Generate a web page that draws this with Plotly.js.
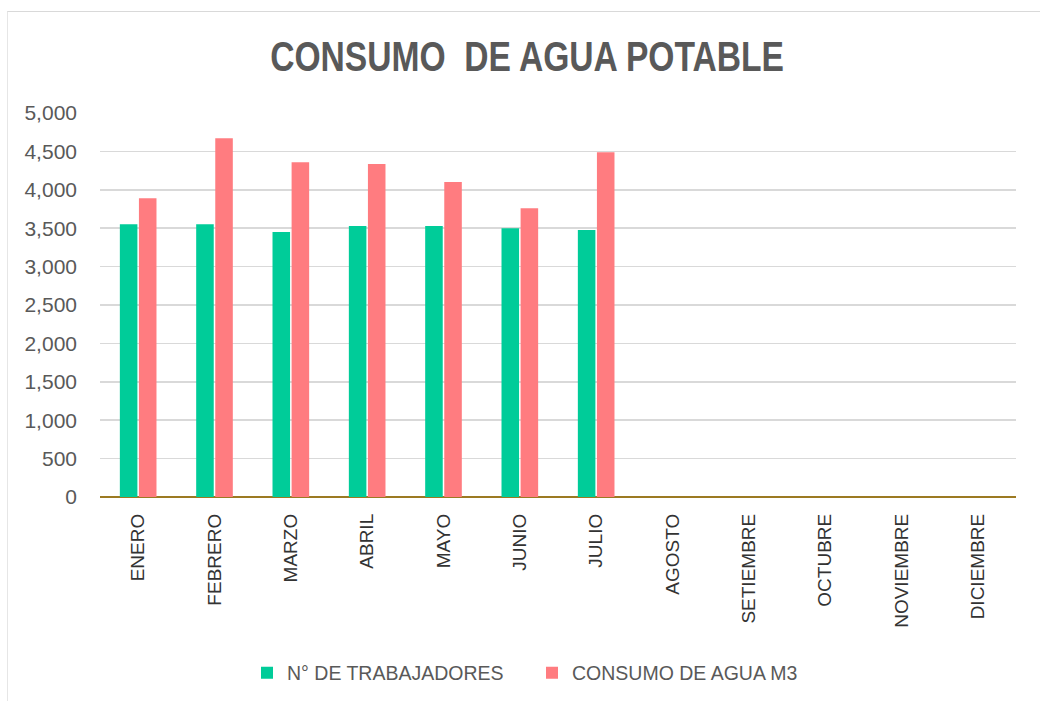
<!DOCTYPE html>
<html>
<head>
<meta charset="utf-8">
<script src="https://cdn.plot.ly/plotly-3.0.1.min.js"></script>
<style>
  html, body { margin: 0; padding: 0; background: #fff; }
  #frame { position: absolute; left: 7px; top: 11px; width: 1040px; height: 700px; border-left: 1px solid #e6e6e6; border-top: 1px solid #d9d9d9; box-sizing: border-box; pointer-events: none; }
  #chart { position: absolute; left: 0; top: 0; width: 1040px; height: 701px; }
</style>
</head>
<body>
<div id="chart"></div>
<div id="frame"></div>
<script>
const months = ["ENERO","FEBRERO","MARZO","ABRIL","MAYO","JUNIO","JULIO","AGOSTO","SETIEMBRE","OCTUBRE","NOVIEMBRE","DICIEMBRE"];
const trabajadores = [3550, 3550, 3450, 3530, 3530, 3500, 3475, null, null, null, null, null];
const consumoAgua = [3890, 4670, 4360, 4335, 4100, 3760, 4490, null, null, null, null, null];
const yTicks = [0, 500, 1000, 1500, 2000, 2500, 3000, 3500, 4000, 4500, 5000];

const data = [
  { type: 'bar', name: 'N° DE TRABAJADORES', x: months, y: trabajadores, marker: { color: '#00CC99' } },
  { type: 'bar', name: 'CONSUMO DE AGUA M3', x: months, y: consumoAgua, marker: { color: '#FF7C80' } }
];

const layout = {
  width: 1040, height: 701,
  margin: { l: 100, r: 24, t: 113, b: 204 },
  paper_bgcolor: '#ffffff', plot_bgcolor: '#ffffff',
  title: {
    text: 'CONSUMO  DE AGUA POTABLE',
    font: { family: '"Liberation Sans", Arial, sans-serif', size: 42, color: '#595959', weight: 700 },
    xref: 'container', x: 527 / 1040, xanchor: 'center', yref: 'container', y: 1 - 56 / 701, yanchor: 'middle'
  },
  barmode: 'group', bargap: 0.5, bargroupgap: 0.08,
  xaxis: {
    type: 'category', tickangle: -90, showgrid: false, zeroline: false,
    showline: false, ticks: '', ticklen: 0, ticklabelstandoff: 12,
    tickfont: { family: '"Liberation Sans", Arial, sans-serif', size: 19, color: '#333333' }
  },
  yaxis: {
    range: [0, 5000], tickvals: yTicks, tickformat: ',d',
    showgrid: true, gridcolor: '#d9d9d9', gridwidth: 1.5,
    zeroline: true, zerolinecolor: '#9C7A22', zerolinewidth: 2,
    showline: false, ticks: '',
    tickfont: { family: '"Liberation Sans", Arial, sans-serif', size: 21, color: '#595959' },
    ticklabelstandoff: 22
  },
  legend: {
    orientation: 'h', xref: 'container', x: 532 / 1040, xanchor: 'center', yref: 'container', y: 1 - 673 / 701, yanchor: 'middle',
    font: { family: '"Liberation Sans", Arial, sans-serif', size: 19.5, color: '#595959' },
    itemwidth: 30, traceorder: 'normal', entrywidth: 240
  },
  showlegend: true
};

Plotly.newPlot('chart', data, layout, { displayModeBar: false, staticPlot: true }).then(function (gd) {
  const t = gd.querySelector('.gtitle');
  if (t) {
    const cx = parseFloat(t.getAttribute('x')) || 527;
    t.setAttribute('transform', 'translate(' + cx + ',0) scale(0.80,1) translate(' + (-cx) + ',0)');
  }
});
</script>
</body>
</html>
